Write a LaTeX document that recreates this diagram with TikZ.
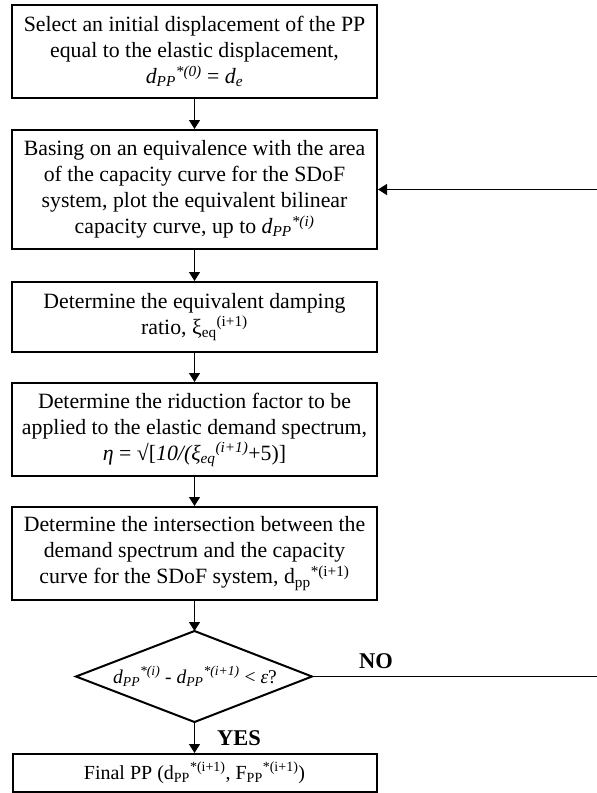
\documentclass[tikz,border=0pt]{standalone}
\usepackage{fontspec}
\setmainfont{Liberation Serif}
\usetikzlibrary{arrows.meta}
\newcommand{\dPP}[1]{\textit{d}\textsubscript{\textit{PP}}\textsuperscript{\textit{#1}}}
\tikzset{
  procbox/.style={draw, line width=2pt, minimum width=365pt, align=center, inner sep=0pt,
    font=\fontsize{21.8}{26}\selectfont},
  conn/.style={line width=1.3pt, -{Triangle[length=9pt,width=11pt]}},
  lbl/.style={font=\fontsize{22.5}{26}\selectfont\bfseries, inner sep=0pt}
}
\begin{document}
\begin{tikzpicture}[x=1pt,y=-1pt]
\clip (0,0) rectangle (597,793);
\fill[white] (0,0) rectangle (597,793);
\node[procbox, minimum height=93pt] (b1) at (194.5,51.5)
  {Select an initial displacement of the PP\\ equal to the elastic displacement,\\ \dPP{*(0)} = \textit{d}\textsubscript{\textit{e}}};
\node[procbox, minimum height=119pt] (b2) at (194.5,189.5)
  {Basing on an equivalence with the area\\ of the capacity curve for the SDoF\\ system, plot the equivalent bilinear\\ capacity curve, up to \dPP{*(i)}};
\node[procbox, minimum height=70pt] (b3) at (194.5,317)
  {Determine the equivalent damping\\ ratio, ξ\textsubscript{eq}\textsuperscript{(i+1)}};
\node[procbox, minimum height=93pt] (b4) at (194.5,429.5)
  {Determine the riduction factor to be\\ applied to the elastic demand spectrum,\\ \textit{η} = √[\textit{10/(ξ}\textsubscript{\textit{eq}}\textsuperscript{\textit{(i+1)}}+5)]};
\node[procbox, minimum height=93pt] (b5) at (194.5,553.5)
  {Determine the intersection between the\\ demand spectrum and the capacity\\ curve for the SDoF system, d\textsubscript{pp}\textsuperscript{*(i+1)}};
\coordinate (dt) at (194.5,631);
\coordinate (dr) at (312,676.5);
\coordinate (db) at (194.5,722);
\coordinate (dl) at (76,676.5);
\draw[line width=2pt, line join=miter] (dt) -- (dr) -- (db) -- (dl) -- cycle;
\node[font=\fontsize{19.5}{26}\selectfont, inner sep=0pt] (dtext) at (195,676.5)
  {\dPP{*(i)} - \dPP{*(i+1)} < \textit{ε}?};
\node[procbox, minimum width=364pt, minimum height=38pt, font=\fontsize{20}{26}\selectfont] (fin) at (194.5,773)
  {Final PP (d\textsubscript{PP}\textsuperscript{*(i+1)}, F\textsubscript{PP}\textsuperscript{*(i+1)})};
\coordinate (r1) at (602,676.5);
\coordinate (r2) at (602,189.5);
\draw[conn] (b1) -- (b2);
\draw[conn] (b2) -- (b3);
\draw[conn] (b3) -- (b4);
\draw[conn] (b4) -- (b5);
\draw[conn] (b5.south -| dt) -- (dt);
\draw[conn] (db) -- (fin.north -| db);
\draw[conn] (dr) -- (r1) -- (r2) -- (b2.east);
\node[lbl] (no) at (376,661) {NO};
\node[lbl] (yes) at (239,738) {YES};
\end{tikzpicture}
\end{document}
